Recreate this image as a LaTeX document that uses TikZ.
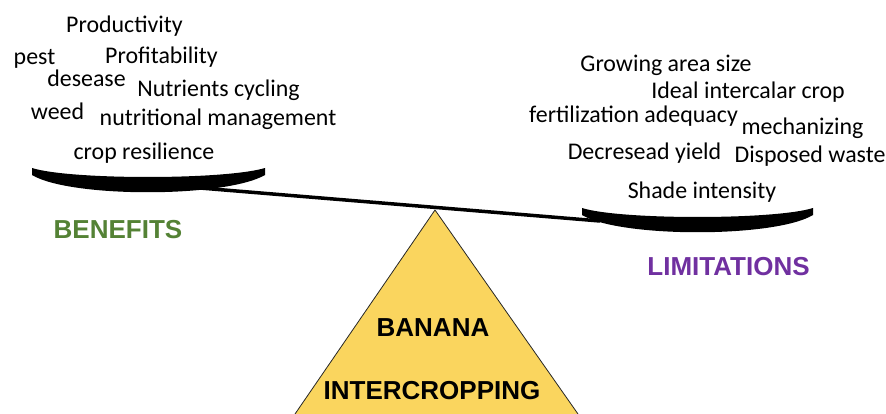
\documentclass[tikz,border=0pt]{standalone}
\usepackage{fontspec}
\setmainfont{Carlito}
\newfontfamily\headfont{Liberation Sans}

\definecolor{benefitgreen}{HTML}{548235}
\definecolor{limitpurple}{HTML}{7030A0}
\definecolor{fulcrum}{HTML}{FAD55E}

\begin{document}
\begin{tikzpicture}[x=1pt, y=-1pt,
    word/.style={anchor=base, inner sep=0pt, font=\fontsize{23.9}{28}\selectfont},
    title/.style={anchor=base, inner sep=0pt, font=\headfont\bfseries\fontsize{26}{30}\selectfont}]
    \useasboundingbox (0,0) rectangle (886,414);

    % fulcrum
    \coordinate (apex) at (435,210);
    \coordinate (baseL) at (295,414);
    \coordinate (baseR) at (578,414);
    \fill[fulcrum] (baseL) -- (apex) -- (baseR) -- cycle;
    \draw[line width=0.8pt, black!85] (baseL) -- (apex) -- (baseR);
    \node (banana) [title] at (433,336) {BANANA};
    \node (intercrop) [title] at (432,399) {INTERCROPPING};

    % beam and pans
    \coordinate (leftarm) at (200,188);
    \coordinate (rightarm) at (600,221);
    \draw[line width=3.5pt] (leftarm) -- (rightarm);
    \fill (32,168) .. controls (70,180) and (225,180) .. (265,168) -- (265,175)
        .. controls (225,198) and (70,198) .. (32,175) -- cycle;
    \fill (582,208) .. controls (620,220) and (775,220) .. (813,208) -- (813,215)
        .. controls (775,238) and (620,238) .. (582,215) -- cycle;

    % benefits side
    \node (productivity) [word] at (124.5,33) {Productivity};
    \node (pest) [word] at (34.5,65) {pest};
    \node (profit) [word] at (161.5,64) {Profitability};
    \node (desease) [word] at (86.5,87) {desease};
    \node (nutrients) [word] at (218.5,97) {Nutrients cycling};
    \node (weed) [word] at (57.5,120) {weed};
    \node (nutrition) [word] at (218,126) {nutritional management};
    \node (resilience) [word] at (144,160) {crop resilience};
    \node (benefits) [title, text=benefitgreen] at (118,238) {BENEFITS};

    % limitations side
    \node (area) [word] at (666,72) {Growing area size};
    \node (ideal) [word] at (748,99) {Ideal intercalar crop};
    \node (fertil) [word] at (633.5,123) {fertilization adequacy};
    \node (mech) [word] at (802.5,135) {mechanizing};
    \node (yield) [word] at (644.5,160) {Decresead yield};
    \node (waste) [word] at (810,163) {Disposed waste};
    \node (shade) [word] at (702,199) {Shade intensity};
    \node (limits) [title, text=limitpurple] at (728.5,275) {LIMITATIONS};
\end{tikzpicture}
\end{document}
